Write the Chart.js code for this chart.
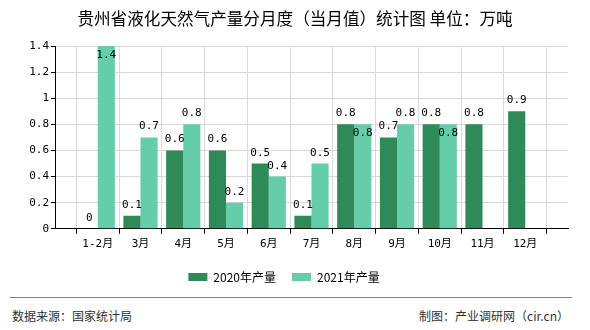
<!DOCTYPE html>
<html>
<head>
<meta charset="utf-8">
<script src="https://cdn.jsdelivr.net/npm/chart.js@4/dist/chart.umd.min.js"></script>
<style>
  html, body { margin: 0; padding: 0; background: #fff; }
  #wrap { position: absolute; left: 0; top: 0; width: 590px; height: 293px; }
  .title { position: absolute; left: 0; top: 8px; width: 590px; text-align: center; font: 16.6px "Noto Sans CJK SC", sans-serif; line-height: 20px; color: #000; }
  .rule { position: absolute; left: 10px; top: 297px; width: 562px; height: 0; border-top: 1px solid #808080; }
  .foot { position: absolute; top: 308px; font: 12px "Noto Sans CJK SC", sans-serif; color: #333; line-height: 16px; }
</style>
</head>
<body>
<div id="wrap"><canvas id="c"></canvas></div>
<div class="title">贵州省液化天然气产量分月度（当月值）统计图 单位：万吨</div>
<div class="rule"></div>
<div class="foot" style="left:12px">数据来源：国家统计局</div>
<div class="foot" style="right:21px">制图：产业调研网（cir.cn）</div>
<script>
// months along the x axis, values in 万吨
const months = ["1-2月", "3月", "4月", "5月", "6月", "7月", "8月", "9月", "10月", "11月", "12月"];
const output2020 = [0, 0.1, 0.6, 0.6, 0.5, 0.1, 0.8, 0.7, 0.8, 0.8, 0.9];
const output2021 = [1.4, 0.7, 0.8, 0.2, 0.4, 0.5, 0.8, 0.8, 0.8, null, null];
const seriesNames = ["2020年产量", "2021年产量"];
const yTicks = [0, 0.2, 0.4, 0.6, 0.8, 1, 1.2, 1.4];

const DARK = "#2e8b57", LIGHT = "#66cdaa";
const MONO = '"DejaVu Sans Mono", monospace';

const pts = arr => arr.map((v, i) => ({ x: i + 1, y: v }));

// value labels above each bar; pushed inside the bar if they would clip or collide
const barLabels = {
  id: "barLabels",
  afterDatasetsDraw(chart) {
    const ctx = chart.ctx, area = chart.chartArea, placed = [];
    ctx.save();
    ctx.font = "11px " + MONO;
    ctx.fillStyle = "#000";
    ctx.textAlign = "center";
    ctx.textBaseline = "alphabetic";
    chart.data.datasets.forEach((ds, di) => {
      chart.getDatasetMeta(di).data.forEach((bar, i) => {
        const v = ds.data[i].y;
        if (v == null) return;
        const txt = String(v), w = ctx.measureText(txt).width, h = 11;
        let y = bar.y - 8;
        const hit = b => Math.abs(b.x - bar.x) < (b.w + w) / 2 && Math.abs(b.y - y) < h;
        if (y - h < area.top || placed.some(hit)) y = bar.y + 12;
        placed.push({ x: bar.x, y, w });
        ctx.fillText(txt, bar.x, y);
      });
    });
    ctx.restore();
  }
};

new Chart(document.getElementById("c"), {
  type: "bar",
  data: {
    datasets: [
      { label: seriesNames[0], data: pts(output2020), backgroundColor: DARK },
      { label: seriesNames[1], data: pts(output2021), backgroundColor: LIGHT }
    ]
  },
  options: {
    responsive: true, maintainAspectRatio: false, animation: false,
    categoryPercentage: 0.8, barPercentage: 1,
    layout: { padding: { left: 0, right: 22, top: 46, bottom: 0 } },
    plugins: {
      tooltip: { enabled: false },
      title: { display: false },
      legend: {
        position: "bottom",
        labels: {
          boxWidth: 19, boxHeight: 8, padding: 16, color: "#000",
          font: { family: '"Noto Sans CJK SC", sans-serif', size: 12 }
        }
      }
    },
    scales: {
      x: {
        type: "linear", min: 0, max: months.length + 1, offset: false,
        afterBuildTicks: s => { s.ticks = [0].concat(months.map((_, i) => i + 1), [months.length + 1]).map(v => ({ value: v })); },
        ticks: {
          autoSkip: false, maxRotation: 0, padding: 4, color: "#000",
          font: { family: MONO + ', "Noto Sans CJK SC"', size: 11 },
          callback: v => months[v - 1] || ""
        },
        grid: { color: "#d9d9d9", tickColor: "#000", tickLength: 5 },
        border: { color: "#000" }
      },
      y: {
        min: 0, max: 1.4,
        afterBuildTicks: s => { s.ticks = yTicks.map(v => ({ value: v })); },
        afterFit: s => { s.width = 55; },
        ticks: {
          padding: 2, color: "#000",
          font: { family: MONO, size: 11 },
          callback: v => String(+v.toFixed(1))
        },
        grid: { color: "#d9d9d9", tickColor: "#000", tickLength: 4 },
        border: { color: "#000" }
      }
    }
  },
  plugins: [barLabels]
});
</script>
</body>
</html>
